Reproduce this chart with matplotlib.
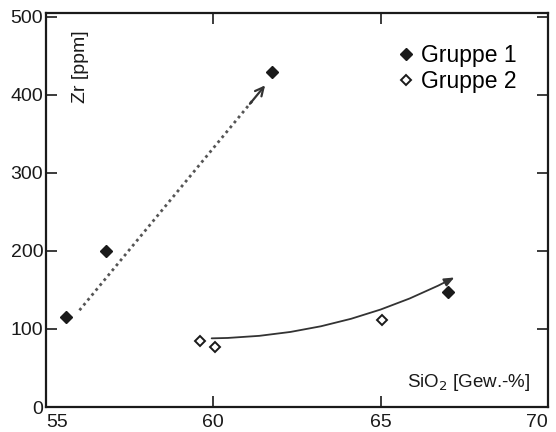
import matplotlib
matplotlib.use('Agg')
import matplotlib.pyplot as plt

plt.rcParams['font.family'] = ['Liberation Sans', 'DejaVu Sans']

# Gruppe 1 (filled diamonds)
sio2_g1 = [55.6, 56.8, 61.75, 67.0]
zr_g1 = [115, 200, 430, 148]

# Gruppe 2 (open diamonds)
sio2_g2 = [59.6, 60.05, 65.05]
zr_g2 = [85, 77, 112]

# trend arrows (start, end) in data units
trend1 = [(56.0, 124), (61.6, 415)]
trend2 = [(59.95, 88), (67.2, 166)]

xticks = [55, 60, 65, 70]
yticks = [0, 100, 200, 300, 400, 500]

fig = plt.figure(figsize = [5.56, 4.32], dpi = 100)
ax = fig.add_axes([46/556, 25/432, 502/556, 394/432])

ax.plot(sio2_g1, zr_g1, linestyle = 'none', marker = 'D', markersize = 6.5,
        color = '#1a1a1a', label = 'Gruppe 1')
ax.plot(sio2_g2, zr_g2, linestyle = 'none', marker = 'D', markersize = 5.5,
        markerfacecolor = 'white', markeredgecolor = '#1a1a1a',
        markeredgewidth = 1.4, label = 'Gruppe 2')

# dotted trend with a solid head
(x0, y0), (x1, y1) = trend1
frac = 0.93
ax.plot([x0, x0 + frac*(x1 - x0)], [y0, y0 + frac*(y1 - y0)],
        linestyle = (0, (1, 1.3)), linewidth = 2.0, color = '#555555')
ax.annotate('', xy = (x1, y1), xytext = (x0 + 0.9*(x1 - x0), y0 + 0.9*(y1 - y0)),
            arrowprops = dict(arrowstyle = '->,head_length=0.6,head_width=0.3',
                              color = '#333333', lw = 1.6))

# curved solid trend
(x0, y0), (x1, y1) = trend2
ax.annotate('', xy = (x1, y1), xytext = (x0, y0),
            arrowprops = dict(arrowstyle = '-|>,head_length=0.6,head_width=0.25',
                              connectionstyle = 'arc3,rad=0.12',
                              color = '#333333', lw = 1.3,
                              shrinkA = 0, shrinkB = 0))

ax.set_xlim(55, 70)
ax.set_ylim(0, 505)
ax.set_xticks(xticks)
ax.set_yticks(yticks)
ax.tick_params(direction = 'in', length = 8, width = 1.2, labelsize = 14,
               top = True, right = True, pad = 2, colors = '#1a1a1a')
ax.tick_params(axis = 'x', pad = 5)
xlabels = ax.get_xticklabels()
xlabels[0].set_ha('left')
xlabels[-1].set_ha('right')
for sp in ax.spines.values():
    sp.set_linewidth(1.6)
    sp.set_color('#1a1a1a')

ax.text(0.068, 0.865, 'Zr [ppm]', transform = ax.transAxes, rotation = 90,
        ha = 'center', va = 'center', fontsize = 14, color = '#1a1a1a')
ax.text(0.964, 0.063, r'SiO$_2$ [Gew.-%]', transform = ax.transAxes,
        ha = 'right', va = 'center', fontsize = 13.5, color = '#1a1a1a')

ax.legend(loc = 'upper right', bbox_to_anchor = (0.955, 0.945), frameon = False,
          fontsize = 16.5, handletextpad = 0.15, handlelength = 1.0,
          labelspacing = 0.15, borderaxespad = 0)

plt.savefig('out.png', dpi = 100)
